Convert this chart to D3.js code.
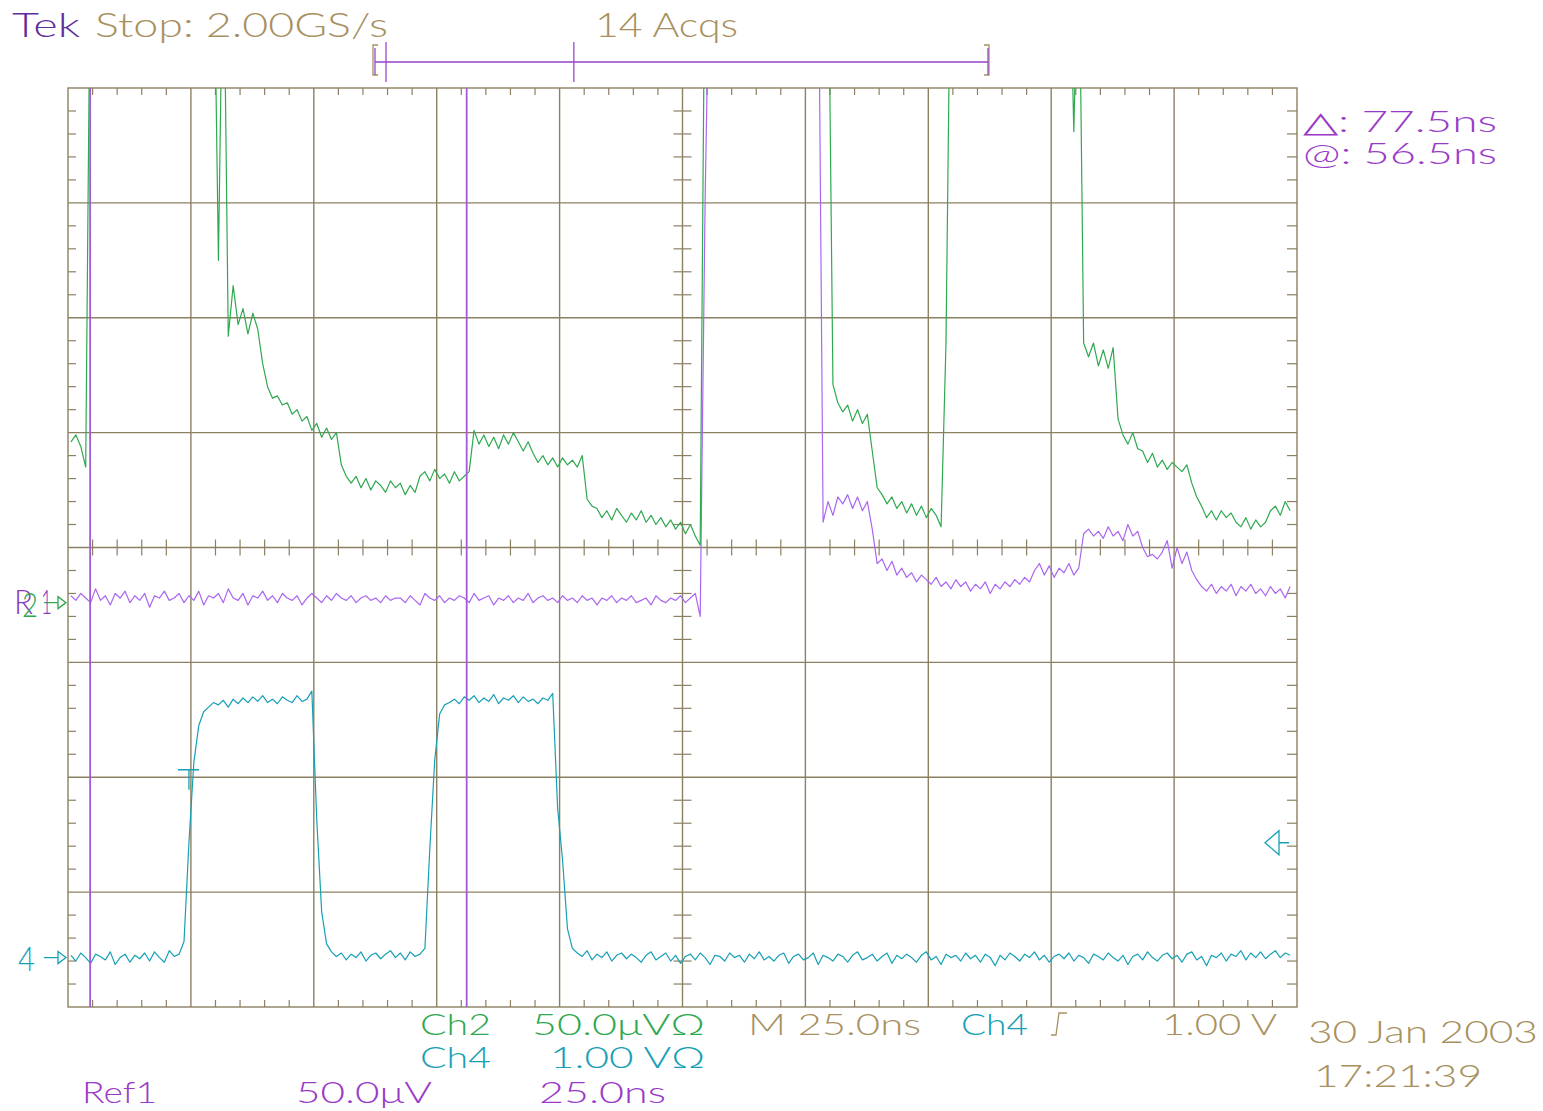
<!DOCTYPE html>
<html>
<head>
<meta charset="utf-8">
<script src="https://cdn.jsdelivr.net/npm/d3@7"></script>
<style>
  body { margin: 0; background: #fff; }
  svg text { font-family: 'Lato', 'DejaVu Sans', sans-serif; font-weight: 300; }
</style>
</head>
<body>
<div id="chart"></div>
<script>
// horizontal: 25 ns/div, record shown at 1 ns per point, trigger at t = 0
const tStart = -24;
const tStep = 1;
const timePerDiv = 25;
const screenLeft = -24.6;

// vertical settings (per div) and ground positions (div from centre)
const ch2PerDiv = 50;    // uV
const ch2Pos = -0.48;
const ref1PerDiv = 50;   // uV
const ref1Pos = -0.48;
const ch4PerDiv = 1.0;   // V
const ch4Pos = -3.57;
const trigLevel = 1.0;   // V
const cursorTimes = [-20.1, 56.5];

// Ch2 in uV (300 = over range, off top of screen)
const ch2Values = [
  70, 73, 68, 59,
  300, 300, 300, 300, 300, 300, 300, 300, 300, 300, 300, 300, 300,
  300, 300, 300, 300, 300, 300, 300, 300, 300, 300, 300, 300, 300,
  149, 300, 116, 138, 121, 128, 117, 126, 119, 104,
  94, 89, 90, 86, 87,
  82, 84, 79, 81,
  75, 78, 72, 76, 71, 74,
  60, 55,
  52, 55, 50, 54, 49, 53, 51, 48, 53, 50, 52, 47, 51, 48,
  55, 57, 53, 58, 54, 56, 52, 57, 53, 55,
  57, 75,
  69, 73, 68, 72, 67, 73, 69, 74, 70, 66, 70,
  65, 61, 64, 60, 63, 59, 63, 60, 62, 59, 64,
  45, 42,
  41, 37, 40, 36, 41, 38, 35, 39, 36, 40, 35, 38, 34, 37, 33, 36,
  32, 35, 30, 34, 29, 25,
  300, 300, 300, 300, 300, 300, 300, 300, 300, 300, 300, 300, 300,
  300, 300, 300, 300, 300, 300, 300, 300, 300, 300, 300, 300, 300,
  95, 87,
  83, 86, 79, 84, 78, 82,
  66, 50,
  47, 43, 46, 41, 44, 39, 43, 38, 42, 37, 41, 38,
  33, 113,
  300, 300, 300, 300, 300, 300, 300, 300, 300, 300, 300, 300, 300,
  300, 300, 300, 300, 300, 300, 300, 300, 300, 300, 300, 300,
  205, 300, 113,
  107, 113, 103, 110, 102, 111,
  80,
  73, 69, 74, 67,
  66, 61, 65, 59,
  62, 58, 61, 59, 57, 60,
  52, 46,
  42, 37, 40, 36, 40, 37, 39, 35,
  33, 37, 32, 36, 33, 35,
  40, 42, 38, 44, 40
];

// Ref1 in uV
const ref1Values = [
  3, 1, 4, 2, 0, 6, 1, 3, -1, 4, 2, 5, 0, 3, 1, 4, -2, 3, 2, 5, 1, 2, 4, 0, 3,
  1, 5, -1, 3, 2, 4, 0, 6, 2, 1, 4, -1, 3, 2, 5, 1, 3, 0, 4, 2, 1, 3, -1, 2, 4,
  2, 0, 3, 1, 4, 2, 1, 3, 0, 2, 3, 1, 2, 0, 3, 1, 2, 2, 0, 3, 1, -1, 4, 2, 1,
  3, 0, 2, 1, 3, 2, 0, 4, 1, 2, 3, -1, 2, 1, 3, 0, 2, 1, 4, 0, 2, 3, 1, 2, 0,
  3, 1, 2, 0, 3, 1, 2, -1, 2, 1, 3, 0, 2, 1, 3, 0, 1, 2, -1, 3, 1, 0, 2, 1, 3, 0, 2,
  4, -6, 175, 300,
  300, 300, 300, 300, 300, 300, 300, 300, 300, 300, 300,
  300, 300, 300, 300, 300, 300, 300, 300, 300, 300, 300,
  35, 44, 38, 46, 43, 47, 41, 46, 40, 44,
  32, 17,
  19, 14, 18, 12, 15, 11, 13, 9, 12, 10,
  8, 11, 7, 9, 6, 10, 7, 9, 5, 8, 6, 9, 4, 8, 6, 9, 7, 10, 8, 11, 9,
  14, 17, 12, 16, 11, 15, 13, 17, 12, 15,
  30, 32, 29, 31, 28, 33, 29, 31, 27, 34, 29, 31,
  24, 20, 21, 19, 22,
  27, 15, 24, 17, 22, 14,
  10, 7, 5, 8, 4, 7, 5, 8, 3, 7, 5, 8, 4, 6, 3, 7, 4, 6, 2, 7
];

// Ch4 in V
const ch4Values = [
  0.02, -0.03, 0.04, 0.00, -0.05, 0.03, 0.01, -0.02, 0.05, -0.06, 0.00, 0.03,
  -0.04, 0.02, -0.01, 0.04, -0.03, 0.05, 0.00, -0.04, 0.06, 0.01, 0.03,
  0.14, 1.00, 1.70, 2.02, 2.14, 2.18, 2.22,
  2.20, 2.24, 2.18, 2.25, 2.21, 2.26, 2.22, 2.27, 2.23, 2.28, 2.22, 2.25, 2.21,
  2.27, 2.24, 2.22, 2.28, 2.23, 2.25,
  2.32, 1.20, 0.40, 0.12,
  0.05, 0.01, 0.04, -0.02, 0.03, 0.00, 0.05, -0.03, 0.02, 0.04, -0.01, 0.03,
  0.06, 0.00, 0.04, -0.02, 0.05, 0.01, 0.03, 0.08,
  0.95, 1.72, 2.12, 2.20,
  2.22, 2.25, 2.21, 2.27, 2.24, 2.28, 2.22, 2.26, 2.23, 2.29, 2.21, 2.26, 2.24,
  2.28, 2.22, 2.27, 2.23, 2.25, 2.21, 2.26, 2.24,
  2.30, 1.30, 0.85, 0.25, 0.08,
  0.04, 0.01, 0.06, -0.02, 0.03, 0.00, 0.05, -0.03, 0.02, 0.04, -0.01, 0.03, 0.00, -0.04, 0.02, 0.05, -0.02, 0.01, 0.04, -0.03,
  0.02, -0.05, 0.01, 0.03, -0.02, 0.04, 0.00, -0.06, 0.02, 0.01, -0.03, 0.04, 0.00, 0.02, -0.04, 0.03, -0.01, 0.05, -0.02, 0.01,
  -0.03, 0.02, 0.04, -0.05, 0.01, 0.03, -0.02, 0.00, 0.04, -0.06, 0.02, 0.00, -0.03, 0.03, 0.01, -0.04, 0.02, 0.05, -0.02, 0.00,
  0.03, -0.03, 0.01, 0.04, -0.05, 0.02, -0.01, 0.03, 0.00, -0.04, 0.02, 0.05, -0.02, 0.01, -0.06, 0.03, 0.00, 0.02, -0.03, 0.04,
  -0.01, 0.02, -0.04, 0.03, 0.00, -0.07, 0.02, -0.02, 0.04, 0.01, -0.03, 0.03, 0.00, 0.05, -0.02, 0.02, -0.04, 0.01, 0.03, -0.01,
  0.04, -0.03, 0.02, 0.00, -0.05, 0.03, 0.01, -0.02, 0.04, 0.00, -0.03, 0.02, -0.06, 0.01, 0.03, -0.02, 0.05, 0.00, -0.03, 0.02,
  0.04, -0.01, 0.02, -0.04, 0.03, 0.05, -0.02, 0.01, -0.07, 0.02, 0.00, 0.04, -0.03, 0.03, 0.01, 0.06, -0.02, 0.04, 0.00, 0.05,
  -0.01, 0.03, 0.06, 0.00, 0.04, 0.02
];

const tan = '#a8915f';
const grid = '#8c8063';
const green = '#2fa94f';
const violet = '#aa66f0';
const cyan = '#17a0b5';
const purpleText = '#9a3ac8';

const width = 1543;
const height = 1111;
const plot = { left: 68, right: 1297, top: 88, bottom: 1007 };

const divX = d3.scaleLinear().domain([0, 10]).range([plot.left, plot.right]);
const divY = d3.scaleLinear().domain([-4, 4]).range([plot.bottom, plot.top]);
const x = d3.scaleLinear().domain([screenLeft, screenLeft + 10 * timePerDiv]).range([plot.left, plot.right]);
const yFor = (perDiv, pos) => d3.scaleLinear().domain([(-4 - pos) * perDiv, (4 - pos) * perDiv]).range([plot.bottom, plot.top]);
const yCh2 = yFor(ch2PerDiv, ch2Pos);
const yRef1 = yFor(ref1PerDiv, ref1Pos);
const yCh4 = yFor(ch4PerDiv, ch4Pos);

const svg = d3.select('#chart').append('svg')
  .attr('width', width)
  .attr('height', height);

svg.append('rect').attr('width', width).attr('height', height).attr('fill', '#fff');

svg.append('clipPath').attr('id', 'screen')
  .append('rect')
  .attr('x', plot.left).attr('y', plot.top)
  .attr('width', plot.right - plot.left).attr('height', plot.bottom - plot.top);

// graticule
const gGrid = svg.append('g').attr('stroke', grid).attr('stroke-width', 1.4).attr('fill', 'none');
d3.range(1, 10).forEach((i) => {
  gGrid.append('line').attr('x1', divX(i)).attr('x2', divX(i)).attr('y1', plot.top).attr('y2', plot.bottom);
});
d3.range(-3, 4).forEach((j) => {
  gGrid.append('line').attr('x1', plot.left).attr('x2', plot.right).attr('y1', divY(j)).attr('y2', divY(j));
});
gGrid.append('rect')
  .attr('x', plot.left).attr('y', plot.top)
  .attr('width', plot.right - plot.left).attr('height', plot.bottom - plot.top);

const minorX = d3.range(0, 50).filter((i) => i % 5 !== 0).map((i) => i / 5);
const minorY = d3.range(-20, 20).filter((i) => i % 5 !== 0).map((i) => i / 5);
const tick = (x1, y1, x2, y2) => gGrid.append('line').attr('x1', x1).attr('y1', y1).attr('x2', x2).attr('y2', y2).attr('stroke-width', 1.2);
minorX.forEach((d) => {
  tick(divX(d), plot.top, divX(d), plot.top + 7);
  tick(divX(d), plot.bottom, divX(d), plot.bottom - 7);
  tick(divX(d), divY(0) - 8, divX(d), divY(0) + 8);
});
minorY.forEach((d) => {
  tick(plot.left, divY(d), plot.left + 8, divY(d));
  tick(plot.right, divY(d), plot.right - 10, divY(d));
  tick(divX(5) - 9, divY(d), divX(5) + 9, divY(d));
});

// waveforms
const traces = [
  { values: ref1Values, y: yRef1, color: violet },
  { values: ch2Values, y: yCh2, color: green },
  { values: ch4Values, y: yCh4, color: cyan }
];
const gTr = svg.append('g').attr('clip-path', 'url(#screen)');
traces.forEach((tr) => {
  const line = d3.line()
    .x((d, i) => x(tStart + i * tStep))
    .y((d) => tr.y(d));
  gTr.append('path')
    .datum(tr.values)
    .attr('d', line)
    .attr('fill', 'none')
    .attr('stroke', tr.color)
    .attr('stroke-width', 1.2)
    .attr('stroke-linejoin', 'round');
});

// cursors
cursorTimes.forEach((t) => {
  svg.append('line')
    .attr('x1', x(t)).attr('x2', x(t))
    .attr('y1', plot.top).attr('y2', plot.bottom)
    .attr('stroke', '#a45ad8').attr('stroke-width', 1.8);
});

// trigger point marker
svg.append('path')
  .attr('d', `M${x(0) - 11},${yCh4(trigLevel) - 73}H${x(0) + 10}M${x(0)},${yCh4(trigLevel) - 73}V${yCh4(trigLevel) - 53}`)
  .attr('stroke', cyan).attr('stroke-width', 1.3).attr('fill', 'none');

// record bar at the top
const bar = d3.scaleLinear().domain(x.domain()).range([375, 988]);
const gBar = svg.append('g').attr('fill', 'none');
gBar.append('path').attr('d', 'M378,45H373V75H378').attr('stroke', tan).attr('stroke-width', 1.3);
gBar.append('path').attr('d', 'M984,45H989V75H984').attr('stroke', tan).attr('stroke-width', 1.3);
gBar.append('line').attr('x1', bar.range()[0]).attr('x2', bar.range()[1]).attr('y1', 62).attr('y2', 62)
  .attr('stroke', '#b070d8').attr('stroke-width', 2);
bar.range().forEach((b) => {
  gBar.append('line').attr('x1', b).attr('x2', b).attr('y1', 48).attr('y2', 75).attr('stroke', '#9a48c8').attr('stroke-width', 1.3);
});
cursorTimes.forEach((t) => {
  gBar.append('line').attr('x1', bar(t)).attr('x2', bar(t)).attr('y1', 42).attr('y2', 82).attr('stroke', '#9a48c8').attr('stroke-width', 1.3);
});

// ground markers
const arrow = (yPos, color) => {
  svg.append('path')
    .attr('d', `M44,${yPos}H58M58,${yPos - 6}L66,${yPos}L58,${yPos + 6}Z`)
    .attr('stroke', color).attr('stroke-width', 1.3).attr('fill', 'none');
};
arrow(yCh2(0), green);
arrow(yCh4(0), cyan);
svg.append('path')
  .attr('d', `M1265,${yCh4(trigLevel)}L1279,${yCh4(trigLevel) - 12}V${yCh4(trigLevel) + 12}ZM1279,${yCh4(trigLevel)}H1289`)
  .attr('stroke', cyan).attr('stroke-width', 1.3).attr('fill', 'none');

// readouts
const labels = [
  { text: 'Tek', x: 12, y: 37, w: 68, size: 33, color: '#5e2e9c' },
  { text: 'Stop: 2.00GS/s', x: 95, y: 37, w: 293, size: 33, color: tan },
  { text: '14 Acqs', x: 595, y: 37, w: 143, size: 33, color: tan },
  { text: '\u25B3: 77.5ns', x: 1303, y: 132, w: 194, size: 29, color: purpleText },
  { text: '@: 56.5ns', x: 1303, y: 164, w: 194, size: 29, color: purpleText },
  { text: 'R', x: 14, y: 614, w: 19, size: 34, color: '#8a3cc0' },
  { text: '2', x: 22, y: 617, w: 16, size: 34, color: green },
  { text: '1', x: 41, y: 614, w: 11, size: 34, color: '#8a3cc0' },
  { text: '4', x: 18, y: 971, w: 17, size: 34, color: cyan },
  { text: 'Ch2', x: 420, y: 1035, w: 71, size: 29, color: green },
  { text: '50.0\u03BCV\u03A9', x: 532, y: 1035, w: 173, size: 29, color: green },
  { text: 'Ch4', x: 420, y: 1068, w: 71, size: 29, color: cyan },
  { text: '1.00 V\u03A9', x: 550, y: 1068, w: 155, size: 29, color: cyan },
  { text: 'M 25.0ns', x: 748, y: 1035, w: 173, size: 29, color: tan },
  { text: 'Ch4', x: 961, y: 1035, w: 67, size: 29, color: cyan },
  { text: '1.00 V', x: 1162, y: 1035, w: 115, size: 29, color: tan },
  { text: 'Ref1', x: 82, y: 1103, w: 75, size: 30, color: purpleText },
  { text: '50.0\u03BCV', x: 296, y: 1103, w: 136, size: 30, color: purpleText },
  { text: '25.0ns', x: 539, y: 1103, w: 127, size: 30, color: purpleText },
  { text: '30 Jan 2003', x: 1308, y: 1043, w: 230, size: 32, color: tan },
  { text: '17:21:39', x: 1314, y: 1087, w: 168, size: 32, color: tan }
];
svg.append('g').selectAll('text')
  .data(labels)
  .enter()
  .append('text')
  .attr('x', (d) => d.x)
  .attr('y', (d) => d.y)
  .attr('fill', (d) => d.color)
  .attr('font-size', (d) => d.size)
  .attr('textLength', (d) => d.w)
  .attr('lengthAdjust', 'spacingAndGlyphs')
  .text((d) => d.text);

// trigger slope symbol
svg.append('path')
  .attr('d', 'M1051,1035H1056L1059,1013H1067')
  .attr('stroke', tan).attr('stroke-width', 1.3).attr('fill', 'none');
</script>
</body>
</html>
